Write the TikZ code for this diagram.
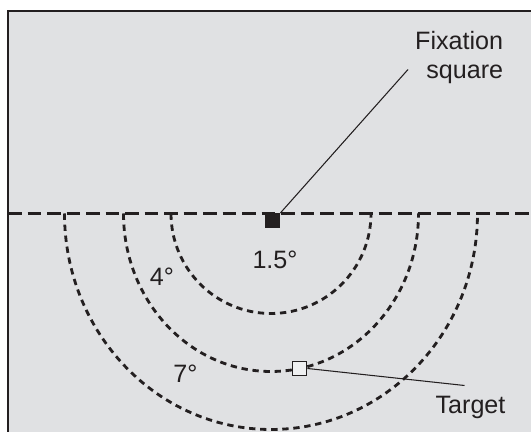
\documentclass[tikz,border=0pt]{standalone}
\usepackage{fontspec}
\setmainfont{Liberation Sans}
\usepackage{xcolor}
\usepackage{tikz}
\usetikzlibrary{positioning,calc}
\definecolor{blackmain}{HTML}{231F20}
\definecolor{graybg}{HTML}{E0E1E3}
\definecolor{targetfill}{HTML}{EFF0F1}
\tikzset{every node/.append style={font=\fontsize{14.3}{16.2}\selectfont,text=blackmain},
  meridian/.style={blackmain,line width=1.8pt,dash pattern=on 7.8pt off 3.3pt},
  ring/.style={blackmain,line width=1.6pt,dash pattern=on 3.6pt off 2.7pt},
  pointer/.style={blackmain,line width=0.6pt}}

\begin{document}
\begin{tikzpicture}
  \useasboundingbox (0,0) rectangle (10.62,8.64);
  \clip (0,0) rectangle (10.62,8.64);
  \draw[blackmain,fill=graybg,line width=0.7pt] (0.16,-0.5) rectangle (11,8.42);
  \coordinate (C) at (5.42,4.37);
  \coordinate (W) at (0.16,4.37);
  \coordinate (E) at (11,4.37);
  % rings around fixation
  \draw[ring] ($(C)+(-2.0,0)$) arc[start angle=180,end angle=360,x radius=2.0,y radius=2.0];
  \draw[ring] ($(C)+(-2.95,0)$) arc[start angle=180,end angle=360,x radius=2.95,y radius=3.16];
  \draw[ring] ($(C)+(-4.13,0)$) arc[start angle=180,end angle=360,x radius=4.13,y radius=4.32];
  \draw[meridian] (W) -- (E);
  % squares
  \node[fill=blackmain,minimum size=0.3cm,inner sep=0pt,anchor=north] (fix) at (5.45,4.38) {};
  \node[draw=blackmain,fill=targetfill,line width=0.6pt,minimum size=0.29cm,inner sep=0pt]
    (target) at ($(C)+(-78.8:2.95 and 3.16)$) {};
  % labels
  \node[align=right,anchor=east,inner sep=0pt] (fixlbl) at (10.07,7.49) {Fixation\\square};
  \node (tgtlbl) at (9.41,0.49) {Target};
  \node (r1) at (5.50,3.44) {1.5°};
  \node (r2) at (3.24,3.10) {4°};
  \node (r3) at (3.71,1.16) {7°};
  \coordinate (fixend) at (8.16,7.25);
  \coordinate (tgtend) at (9.29,0.93);
  \draw[pointer] (fix.north east) -- (fixend);
  \draw[pointer] (target.east) -- (tgtend);
\end{tikzpicture}
\end{document}
